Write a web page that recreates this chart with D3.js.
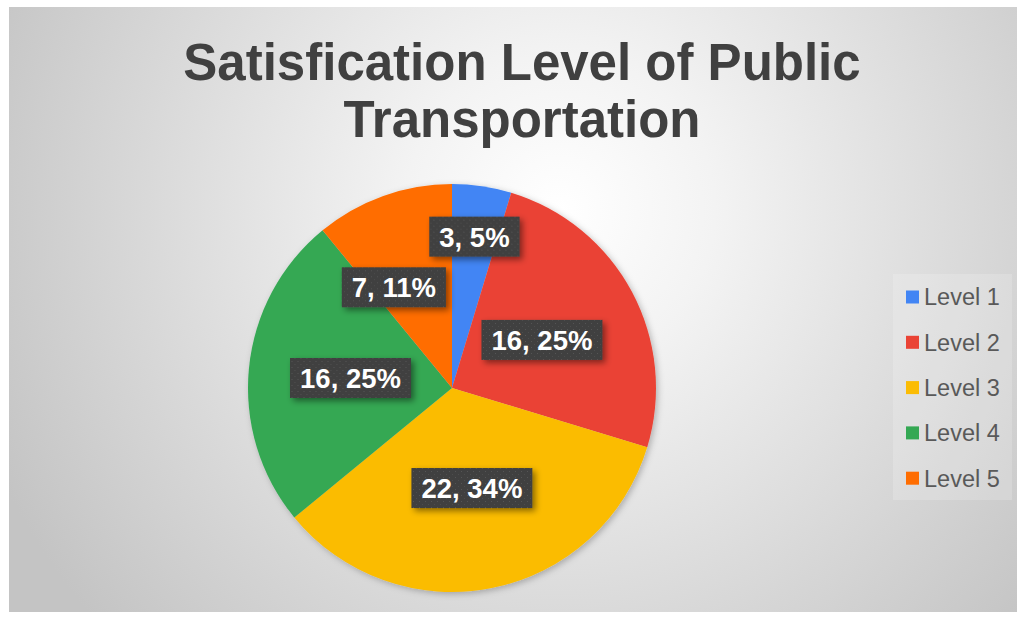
<!DOCTYPE html>
<html><head><meta charset="utf-8">
<script src="https://cdn.jsdelivr.net/npm/d3@7"></script>
<style>html,body{margin:0;padding:0;background:#fff;}svg{display:block;}</style>
</head><body>
<svg id="chart" width="1018" height="617"></svg>
<script>
const categories = ["Level 1","Level 2","Level 3","Level 4","Level 5"];
const values = [3,16,22,16,7];
const colors = ["#4285F4","#EA4335","#FBBC04","#34A853","#FF6D01"];
const titleLines = ["Satisfication Level of Public","Transportation"];

const W=1018,H=617;
const svg=d3.select("#chart");
const defs=svg.append("defs");
const rg=defs.append("radialGradient").attr("id","bg").attr("gradientUnits","userSpaceOnUse")
  .attr("cx",560).attr("cy",210).attr("r",620);
rg.append("stop").attr("offset","0").attr("stop-color","#ffffff");
rg.append("stop").attr("offset","0.25").attr("stop-color","#f3f3f3");
rg.append("stop").attr("offset","1").attr("stop-color","#c4c4c4");
const pat=defs.append("pattern").attr("id","dots").attr("patternUnits","userSpaceOnUse").attr("width",6).attr("height",6);
pat.append("rect").attr("width",6).attr("height",6).attr("fill","#3f3f3f");
pat.append("rect").attr("x",1).attr("y",1).attr("width",1).attr("height",1).attr("fill","#575757");
pat.append("rect").attr("x",4).attr("y",4).attr("width",1).attr("height",1).attr("fill","#505050");
const sh=defs.append("filter").attr("id","shadow").attr("x","-30%").attr("y","-30%").attr("width","160%").attr("height","160%");
sh.append("feDropShadow").attr("dx",3).attr("dy",3).attr("stdDeviation",3).attr("flood-color","#000").attr("flood-opacity",0.45);
const psh=defs.append("filter").attr("id","pshadow").attr("x","-10%").attr("y","-10%").attr("width","120%").attr("height","120%");
psh.append("feDropShadow").attr("dx",2).attr("dy",2).attr("stdDeviation",3).attr("flood-color","#000").attr("flood-opacity",0.25);

svg.append("rect").attr("x",9).attr("y",7).attr("width",1008).attr("height",605).attr("fill","url(#bg)");

const title=svg.append("text").attr("text-anchor","middle").attr("font-family","Liberation Sans, Arial, sans-serif")
  .attr("font-weight","bold").attr("font-size",51).attr("fill","#404040");
titleLines.forEach((t,i)=>title.append("tspan").attr("x",522).attr("y",80+i*57).text(t));

const cx=452,cy=388,r=204;
const total=d3.sum(values);
const data=categories.map((c,i)=>({cat:c,value:values[i],color:colors[i]}));
const pie=d3.pie().value(d=>d.value).sort(null);
const arcs=pie(data);
const arc=d3.arc().innerRadius(0).outerRadius(r);
const g=svg.append("g").attr("transform",`translate(${cx},${cy})`);
g.append("g").attr("filter","url(#pshadow)").selectAll("path").data(arcs).join("path")
  .attr("d",arc).attr("fill",d=>d.data.color);

const fmt=d=>`${d.data.value}, ${Math.round(d.data.value/total*100)}%`;
const labelR=d=>{const p=d.data.value/total; return p<0.08?0.75*r:(p<0.15?0.57*r:0.5*r);};
const lg=g.append("g");
arcs.forEach(d=>{
  let a=(d.startAngle+d.endAngle)/2;
  if(d.data.value/total<0.15 && d.data.value/total>=0.08) a-=0.18;
  const lr=labelR(d);
  const x=Math.sin(a)*lr, y=-Math.cos(a)*lr;
  const gg=lg.append("g").attr("transform",`translate(${x},${y})`);
  const t=gg.append("text").attr("text-anchor","middle").attr("dy","0.36em")
    .attr("font-family","Liberation Sans, Arial, sans-serif").attr("font-weight","bold")
    .attr("font-size",27.5).attr("fill","#ffffff").text(fmt(d));
  const bb=t.node().getBBox();
  gg.insert("rect","text").attr("x",bb.x-10).attr("y",-20).attr("width",bb.width+20).attr("height",40)
    .attr("fill","url(#dots)").attr("filter","url(#shadow)");
});

const leg=svg.append("g");
leg.append("rect").attr("x",893).attr("y",274).attr("width",119).attr("height",226).attr("fill","#ffffff").attr("opacity",0.18);
data.forEach((d,i)=>{
  const y=297+i*45.3;
  leg.append("rect").attr("x",906).attr("y",y-6.5).attr("width",13).attr("height",13).attr("fill",d.color);
  leg.append("text").attr("x",924).attr("y",y).attr("dy","0.36em").attr("font-family","Liberation Sans, Arial, sans-serif")
    .attr("font-size",23.5).attr("fill","#595959").text(d.cat);
});
</script>
</body></html>
